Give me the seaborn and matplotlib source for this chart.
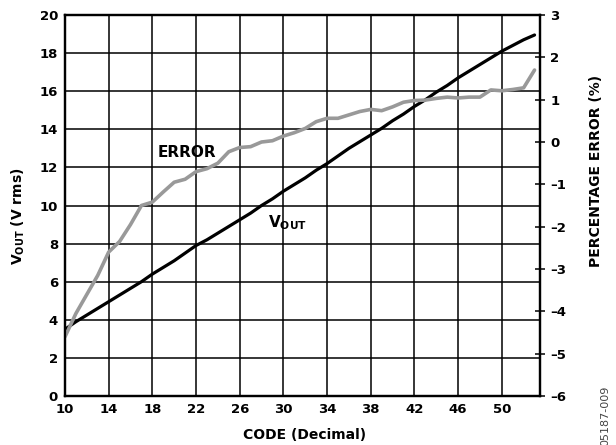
import matplotlib
matplotlib.use("Agg")
import matplotlib.pyplot as plt
import seaborn as sns
import pandas as pd

codes = list(range(10, 54))
vout = [3.5, 3.9, 4.25, 4.6, 4.95, 5.3, 5.65, 6.0, 6.4, 6.75,
        7.1, 7.5, 7.9, 8.2, 8.55, 8.9, 9.25, 9.6, 10.0, 10.35,
        10.75, 11.1, 11.45, 11.85, 12.2, 12.6, 13.0, 13.35, 13.7, 14.05,
        14.45, 14.8, 15.2, 15.55, 15.95, 16.3, 16.7, 17.05, 17.4, 17.75,
        18.1, 18.4, 18.7, 18.95]
error = [-4.6, -4.05, -3.6, -3.15, -2.6, -2.35, -1.95, -1.5, -1.42, -1.18,
         -0.95, -0.88, -0.7, -0.63, -0.5, -0.23, -0.13, -0.11, 0.0, 0.03,
         0.14, 0.22, 0.32, 0.48, 0.56, 0.56, 0.64, 0.72, 0.77, 0.74,
         0.83, 0.94, 0.98, 0.99, 1.03, 1.06, 1.04, 1.06, 1.06, 1.23,
         1.21, 1.24, 1.28, 1.70]
x_ticks = [10, 14, 18, 22, 26, 30, 34, 38, 42, 46, 50]
left_ticks = [0, 2, 4, 6, 8, 10, 12, 14, 16, 18, 20]
right_ticks = [-6, -5, -4, -3, -2, -1, 0, 1, 2, 3]

df = pd.DataFrame({"code": codes, "vout": vout, "error": error})

sns.set_theme(style="white")
plt.rcParams['font.family'] = ['DejaVu Sans']
plt.rcParams['mathtext.fontset'] = 'dejavusans'
plt.rcParams['text.color'] = 'black'
plt.rcParams['axes.labelcolor'] = 'black'
plt.rcParams['xtick.color'] = 'black'
plt.rcParams['ytick.color'] = 'black'

fig = plt.figure(figsize=(6.16, 4.45), dpi=100)
ax = fig.add_axes([65/616, 1-396/445, (540-65)/616, (396-15)/445])
ax2 = ax.twinx()

sns.lineplot(data=df, x="code", y="vout", ax=ax, color="black", lw=2.3)
sns.lineplot(data=df, x="code", y="error", ax=ax2, color="#999999", lw=2.6)

ax.set_xlim(10, 53.5)
ax.set_ylim(0, 20)
ax2.set_ylim(-6, 3)
ax.set_xticks(x_ticks)
ax.set_yticks(left_ticks)
ax2.set_yticks(right_ticks)
tfs = 9.5
ax.set_xticklabels([str(t) for t in x_ticks], fontsize=tfs, fontweight='bold')
ax.set_yticklabels([str(t) for t in left_ticks], fontsize=tfs, fontweight='bold')
ax2.set_yticklabels([str(t).replace('-', '\u2013') for t in right_ticks], fontsize=tfs, fontweight='bold')

ax.grid(True, color='black', lw=1.1)
ax.set_axisbelow(True)
ax.tick_params(axis='both', length=0, pad=5, colors='black')
ax2.tick_params(axis='y', direction='inout', length=7, width=1.1, pad=4, colors='black')
for a in (ax, ax2):
    for s in a.spines.values():
        s.set_color('black')
        s.set_linewidth(1.6)
        s.set_visible(True)

lfs = 10
ax.set_xlabel("CODE (Decimal)", fontsize=lfs, fontweight='bold', color='black')
ax.xaxis.set_label_coords(0.505, -0.084)
ax.set_ylabel(r"$\mathbf{V_{OUT}}$ (V rms)", fontsize=lfs, fontweight='bold', color='black')
ax.yaxis.set_label_coords(-0.08, 0.472)
ax2.set_ylabel("PERCENTAGE ERROR (%)", fontsize=lfs, fontweight='bold', color='black')
ax2.yaxis.set_label_coords(1.104, 0.59)

ax.text(21.2, 12.8, "ERROR", fontsize=11, fontweight='bold', ha='center', va='center', color='black')
ax.text(28.6, 9.1, r"$\mathbf{V_{OUT}}$", fontsize=11, fontweight='bold', ha='left', va='center', color='black')

fig.text(0.983, 1-386/445, "05187-009", rotation=90, fontsize=8, color='#444444',
         ha='center', va='top')

fig.savefig("out.png", dpi=100)
